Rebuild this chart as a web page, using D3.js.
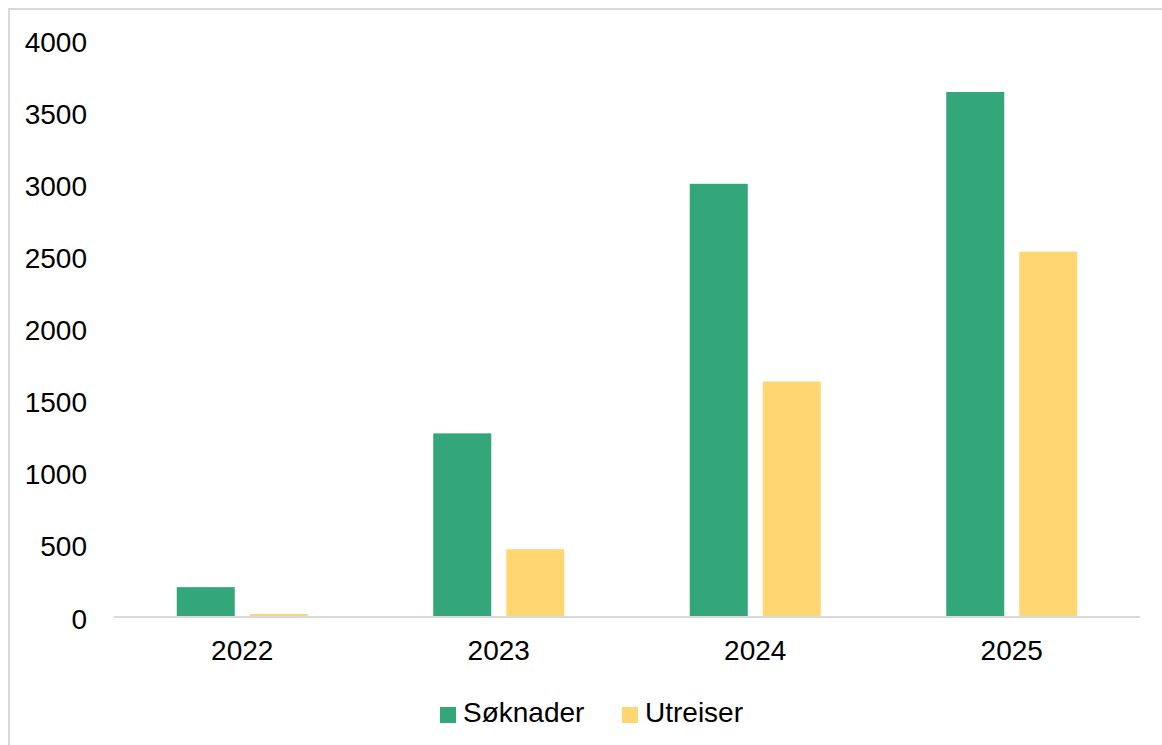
<!DOCTYPE html>
<html><head><meta charset="utf-8">
<script src="https://cdn.jsdelivr.net/npm/d3@7"></script>
<style>html,body{margin:0;padding:0;background:#fff}svg{display:block}</style>
</head><body>
<script>
const categories = ["2022","2023","2024","2025"];
const seriesNames = ["Søknader","Utreiser"];
const soknader = [207, 1273, 3003, 3640];
const utreiser = [21, 470, 1633, 2533];
const yTicks = [0,500,1000,1500,2000,2500,3000,3500,4000];
const colors = ["#34A77A","#FFD672"];

const W = 1162, H = 745;
const svg = d3.select("body").append("svg").attr("width", W).attr("height", H);
const font = "'Liberation Sans', Arial, sans-serif";

svg.append("rect").attr("x",9).attr("y",9).attr("width",W+20).attr("height",H+20)
  .attr("fill","#fff").attr("stroke","#d9d9d9").attr("stroke-width",2);

const x0 = d3.scaleBand().domain(categories).range([114,1140]).paddingInner(0).paddingOuter(0);
const y = d3.scaleLinear().domain([0,4000]).range([617,40]);

const data = categories.map((c,i)=>({cat:c, vals:[soknader[i], utreiser[i]]}));
const barW = 58, gap = 15;

const g = svg.append("g");
data.forEach(d=>{
  const cx = x0(d.cat) + x0.bandwidth()/2;
  d.vals.forEach((v,j)=>{
    const bx = cx - (barW*2+gap)/2 + j*(barW+gap);
    g.append("rect").attr("x",bx).attr("width",barW)
      .attr("y",y(v)).attr("height",y(0)-y(v)).attr("fill",colors[j]);
  });
});

// x axis line
svg.append("line").attr("x1",114).attr("x2",1140).attr("y1",y(0)).attr("y2",y(0))
  .attr("stroke","#d9d9d9").attr("stroke-width",2);

// y labels
const yAxis = d3.axisLeft(y).tickValues(yTicks).tickFormat(d3.format("d")).tickSize(0).tickPadding(0);
const ya = svg.append("g").attr("transform","translate(87,0)").call(yAxis);
ya.select(".domain").remove();
ya.selectAll("text").attr("font-family",font).attr("font-size",28).attr("fill","#000")
  .attr("dy","0.36em").attr("y",1);

// x labels
const xAxis = d3.axisBottom(x0).tickSize(0).tickPadding(0);
const xa = svg.append("g").attr("transform","translate(0,640)").call(xAxis);
xa.select(".domain").remove();
xa.selectAll("text").attr("font-family",font).attr("font-size",28).attr("fill","#000").attr("dy","0.72em");

// legend
const legX = [440, 622];
seriesNames.forEach((s,i)=>{
  svg.append("rect").attr("x",legX[i]).attr("y",707).attr("width",16).attr("height",16).attr("fill",colors[i]);
  svg.append("text").attr("x",legX[i]+23).attr("y",722).attr("font-family",font).attr("font-size",28)
    .attr("fill","#000").text(s);
});
</script>
</body></html>
